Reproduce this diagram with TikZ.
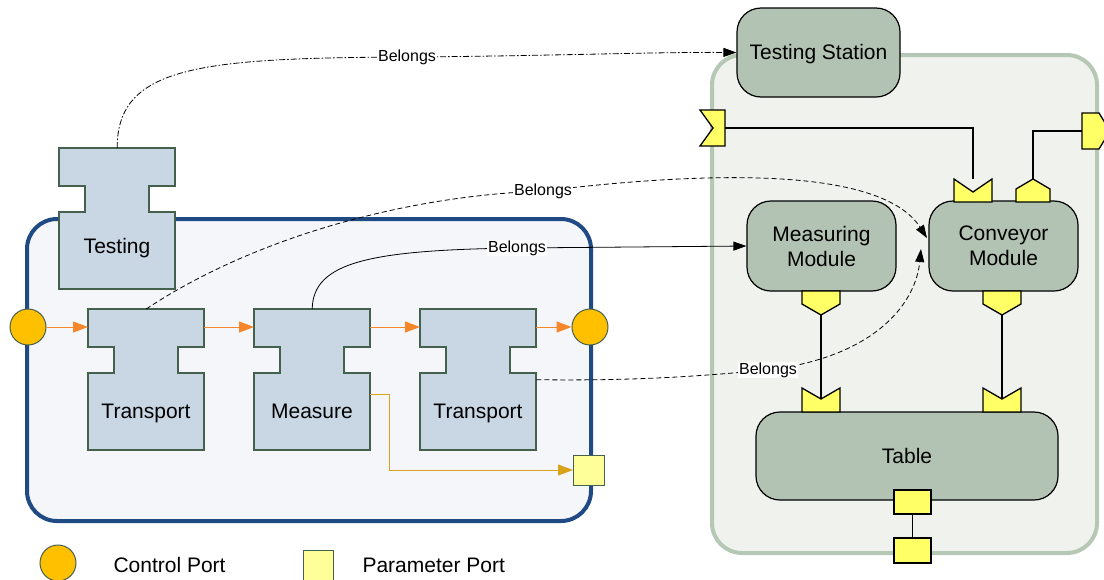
\documentclass[tikz,border=0pt]{standalone}
\usepackage{fontspec}
\setmainfont{Liberation Sans}
\usetikzlibrary{arrows.meta,calc}
\definecolor{beamfill}{HTML}{C9D6E4}
\definecolor{beamdraw}{HTML}{46604E}
\definecolor{leftbg}{HTML}{F4F6FA}
\definecolor{leftborder}{HTML}{1F4A84}
\definecolor{rightbg}{HTML}{F0F2EE}
\definecolor{rightborder}{HTML}{B5C8B5}
\definecolor{modfill}{HTML}{B3C3B3}
\definecolor{portyellow}{HTML}{FFFF66}
\definecolor{paramyellow}{HTML}{FFFF99}
\definecolor{ctrlorange}{HTML}{FFC000}
\definecolor{flowarrow}{HTML}{F5872A}
\definecolor{goldline}{HTML}{D9A21B}
\newcommand{\ibeam}[5]{%
  \draw[beam] (#2,#3) -- ++(116,0) -- ++(0,38) -- ++(-26,0) -- ++(0,26) -- ++(26,0) -- ++(0,77)
     -- ++(-116,0) -- ++(0,-77) -- ++(26,0) -- ++(0,-26) -- ++(-26,0) -- cycle;
  \node[inner sep=0pt, minimum width=116pt, minimum height=141pt, anchor=north west] (#1) at (#2,#3) {};
  \node[anchor=base] (#1-text) at ($(#2,#3)+(58,#5)$) {#4};
}
\begin{document}
\begin{tikzpicture}[x=1pt,y=-1pt,
  font=\fontsize{21}{25}\selectfont,
  beam/.style={draw=beamdraw, fill=beamfill, line width=1.1pt},
  module/.style={draw=black, fill=modfill, rounded corners=24pt, line width=1.2pt, align=center, inner sep=0pt},
  port/.style={draw=black, fill=portyellow, line width=1.3pt},
  wire/.style={line width=1.6pt, draw=black},
  flow/.style={draw=flowarrow, line width=1pt, -{Triangle[length=15pt,width=11pt]}},
  belongs/.style={line width=0.8pt, -{Triangle[length=13pt,width=9pt]}},
  dsh/.style={dash pattern=on 5pt off 3pt},
  dshdot/.style={dash pattern=on 6pt off 2pt on 1.5pt off 2pt},
  lbl/.style={fill=white, inner sep=1pt, font=\fontsize{16}{18}\selectfont},
  ctrl/.style={circle, draw=beamdraw, fill=ctrlorange, line width=1pt, minimum size=36pt, inner sep=0pt},
  param/.style={rectangle, draw=beamdraw, fill=paramyellow, line width=1pt, minimum width=31pt, minimum height=30pt, inner sep=0pt}
]
\useasboundingbox (0,0) rectangle (1104,579);
\fill[white] (0,0) rectangle (1104,579);

% containers
\node[draw=rightborder, fill=rightbg, line width=4pt, rounded corners=30pt, minimum width=385pt, minimum height=498pt, inner sep=0pt] (rightbox) at (904.5,304) {};
\node[draw=leftborder, fill=leftbg, line width=4pt, rounded corners=30pt, minimum width=564pt, minimum height=302pt, inner sep=0pt] (leftbox) at (309,370) {};

% modules
\node[module, minimum width=163pt, minimum height=89pt, text depth=2pt] (station) at (818.5,52.5) {Testing Station};
\node[module, minimum width=149pt, minimum height=90pt] (measmod) at (821.5,246) {Measuring\\Module};
\node[module, minimum width=149pt, minimum height=90pt] (convmod) at (1003.5,246) {Conveyor\\Module};
\node[module, minimum width=302pt, minimum height=88pt] (table) at (907,456) {Table};

% I-beam blocks
\ibeam{testing}{59}{148}{Testing}{105}
\ibeam{tr1}{88}{309}{Transport}{109}
\ibeam{meas}{254}{309}{Measure}{109}
\ibeam{tr2}{420}{309}{Transport}{109}

% control ports
\node[ctrl] (cin) at (28,327) {};
\node[ctrl] (cout) at (590,327) {};
\node[param] (pout) at (589,470) {};

% flow arrows
\draw[flow] (cin.east) -- (cin.east -| tr1.west);
\draw[flow] (tr1.east |- cin.east) -- (cin.east -| meas.west);
\draw[flow] (meas.east |- cin.east) -- (cin.east -| tr2.west);
\draw[flow] (tr2.east |- cin.east) -- (cout.west);
\coordinate (gstart) at ($(meas.north east)+(0,85)$);
\draw[goldline, line width=1pt, -{Triangle[length=15pt,width=11pt]}] (gstart) -- ++(19,0) |- (pout.west);

% ports on the right
\coordinate (flagr) at (725,128);
\draw[port] (700,110) -- (725,110) -- (725,146) -- (700,146) -- (713,128) -- cycle;
\coordinate (outl) at (1082,131);
\draw[port] (1082,113) -- (1099,113) -- (1110,131) -- (1099,149) -- (1082,149) -- cycle;
% conveyor top ports
\coordinate (cvin) at (973,179);
\draw[port] (954,179) -- (973,192) -- (992,179) -- (992,202) -- (954,202) -- cycle;
\coordinate (cvout) at (1033,179);
\draw[port] (1016,202) -- (1016,189) -- (1033,179) -- (1050,189) -- (1050,202) -- cycle;
% bottom output ports
\coordinate (mmout) at (821,315);
\draw[port] (802,291) -- (840,291) -- (840,304) -- (821,315) -- (802,304) -- cycle;
\coordinate (cmout) at (1002,315);
\draw[port] (983,291) -- (1021,291) -- (1021,304) -- (1002,315) -- (983,304) -- cycle;
% table input ports
\coordinate (tin1) at (821,399);
\draw[port] (802,388) -- (821,399) -- (840,388) -- (840,412) -- (802,412) -- cycle;
\coordinate (tin2) at (1002,399);
\draw[port] (983,388) -- (1002,399) -- (1021,388) -- (1021,412) -- (983,412) -- cycle;
% table bottom ports
\node[port, rectangle, minimum width=37pt, minimum height=24pt, inner sep=0pt] (tb1) at (912.5,502) {};
\node[port, rectangle, minimum width=37pt, minimum height=25pt, inner sep=0pt] (tb2) at (912.5,550.5) {};

% wires
\draw[wire] (flagr) -| (cvin);
\draw[wire] (cvout) |- (outl);
\draw[wire] (mmout) -- (tin1);
\draw[wire] (cmout) -- (tin2);
\draw[wire] (tb1.south) -- (tb2.north);

% Belongs connectors
\draw[belongs, dshdot] (testing.north) .. controls (117,66) and (200,58) .. (407,57) node[lbl] {Belongs}
   .. controls (550,56) and (650,52) .. (station.west);
\draw[belongs, dsh] (tr1.north) .. controls (250,240) and (400,196) .. (543,191) node[lbl] {Belongs}
   .. controls (700,172) and (880,165) .. (927,238);
\draw[belongs] (meas.north) .. controls (313,262) and (370,250) .. (517,248) node[lbl] {Belongs}
   -- (measmod.west);
\draw[belongs, dsh] (tr2.east) .. controls (640,381) and (700,376) .. (768,370) node[lbl] {Belongs}
   .. controls (880,356) and (916,300) .. (921,249);

% legend
\node[ctrl] (legc) at (58,563) {};
\node[anchor=west] (legctext) at (110,565) {Control Port};
\node[param, minimum width=30pt, minimum height=30pt] (legp) at (318,565) {};
\node[anchor=west] (legptext) at (359,565) {Parameter Port};
\end{tikzpicture}
\end{document}
